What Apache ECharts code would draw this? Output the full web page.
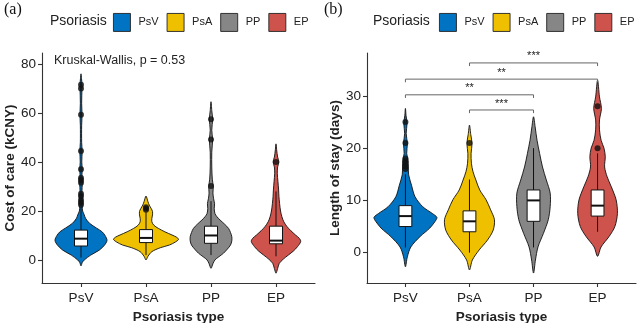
<!DOCTYPE html>
<html><head><meta charset="utf-8">
<script src="https://cdn.jsdelivr.net/npm/echarts@6/dist/echarts.min.js"></script>
<style>html,body{margin:0;padding:0;background:#fff}#c{width:642px;height:323px}</style>
</head><body><div id="c"></div>
<script>
// ---------- data ----------
const categories = ['PsV', 'PsA', 'PP', 'EP'];
const costTicks = [0, 20, 40, 60, 80];
const losTicks = [0, 10, 20, 30];

// violin outlines: [value, half-width in category units], bottom to top
const costViolin_PsV = [[-2.4,0],[-1,0.02],[0,0.05],[2,0.15],[4,0.28],[6,0.36],[8,0.40],[10,0.37],[11.6,0.32],[13,0.24],[15,0.13],[17,0.07],[18.4,0.05],[20,0.025],[22,0.02],[24,0.02],[26,0.022],[28,0.015],[31,0.02],[33,0.022],[35,0.015],[37,0.02],[40,0.012],[44.5,0.018],[48,0.01],[55,0.01],[59.3,0.016],[64,0.01],[70,0.015],[72,0.015],[74,0.008],[76,0]];
const costViolin_PsA = [[0,0],[1.5,0.03],[3.4,0.09],[5,0.22],[6.1,0.36],[7.3,0.45],[8.4,0.50],[9.3,0.47],[10.2,0.40],[11.5,0.29],[12.9,0.19],[14.2,0.12],[15.6,0.09],[17,0.09],[18.4,0.10],[19.8,0.10],[21,0.08],[22.4,0.05],[23.8,0.03],[26.1,0]];
const costViolin_PP = [[-3.4,0],[-1.5,0.03],[0,0.06],[1.3,0.12],[2.7,0.19],[4.4,0.25],[6.1,0.30],[7.8,0.32],[9.5,0.32],[11.2,0.30],[12.9,0.27],[14.6,0.21],[16.3,0.14],[17.7,0.09],[19,0.06],[21,0.05],[23,0.055],[25,0.04],[27.3,0.03],[30,0.035],[33,0.02],[38,0.012],[44,0.012],[49.2,0.025],[53,0.012],[57.5,0.025],[61,0.012],[64.6,0]];
const costViolin_EP = [[-5.4,0],[-3.5,0.025],[-1.4,0.05],[0.3,0.11],[2,0.19],[3.7,0.27],[5.4,0.33],[7.5,0.38],[8.8,0.36],[10.2,0.30],[11.9,0.23],[13.6,0.17],[15.6,0.12],[17.7,0.09],[20,0.07],[23.1,0.055],[26,0.045],[28.6,0.04],[32,0.03],[35.4,0.02],[38,0.025],[40,0.045],[42,0.025],[45,0.01],[47.4,0]];

const losViolin_PsV = [[-2.7,0],[-0.8,0.03],[1.1,0.085],[3.1,0.23],[4.7,0.38],[6.3,0.48],[6.8,0.49],[7.5,0.42],[8.8,0.27],[10.7,0.15],[12.9,0.095],[14.9,0.05],[16.4,0.045],[17.7,0.04],[19,0.02],[20.9,0.03],[22.8,0.012],[24.7,0.025],[26.2,0.01],[27.6,0]];
const losViolin_PsA = [[-3.3,0],[-1.4,0.045],[0.5,0.15],[2.4,0.28],[4.3,0.37],[6.3,0.39],[8.2,0.33],[10.1,0.26],[12,0.16],[13.9,0.10],[15.5,0.055],[17.1,0.03],[19,0.025],[20.9,0.04],[22.6,0.02],[24.4,0]];
const losViolin_PP = [[-3.9,0],[-1.4,0.03],[1.1,0.07],[3.7,0.155],[6.3,0.23],[8.8,0.26],[11.4,0.26],[13.9,0.20],[16.4,0.14],[19,0.095],[21.5,0.055],[24.1,0.025],[26,0]];
const losViolin_EP = [[-0.7,0],[1.1,0.055],[3.1,0.18],[5,0.27],[7.5,0.31],[10.1,0.29],[12.6,0.215],[14.5,0.15],[16.4,0.11],[18.4,0.12],[20,0.10],[21.5,0.055],[23.5,0.03],[25.4,0.03],[27.6,0.06],[29.8,0.03],[33,0]];

// boxplots: [category index, lower whisker, Q1, median, Q3, upper whisker]
const costBox = [[0,1,5.7,8.7,12.2,21.5],[1,2,7.1,9.0,12.4,19.5],[2,2,6.8,10.0,13.8,24],[3,1.5,6.6,7.9,13.8,28]];
const losBox = [[0,1,5,7,9,15],[1,0,4,6,8,14],[2,1,6,10,12,20],[3,4,7,9,12,19]];

// outliers per category
const costOutliers = [[71.5,70,59.3,44.5,37,33.5,32.5,31.5,27,26,24.5,23.5,22.5],[21,20.5,21.5],[57.5,49.2,30.2],[40]];
const losOutliers = [[25,21,18,17.5,17,16.5,16],[21],[],[28,20]];

// significance brackets (panel b)
const bracketPairs = [[1,3],[0,3],[0,2],[1,2]];
const bracketY = [36.3, 33.2, 30.2, 27.3];
const bracketLabels = ['***', '**', '**', '***'];

// ---------- style ----------
const palette = ['#0073C2', '#EFC000', '#868686', '#CD534C'];
const FONT = 'Liberation Sans, Arial, sans-serif';
const INK = '#222';

const chart = echarts.init(document.getElementById('c'), null, {renderer: 'canvas'});

function violin(name, idx, profile, ax, color) {
  return {
    type: 'custom', name: name, xAxisIndex: ax, yAxisIndex: ax, z: 2,
    itemStyle: {color: color},
    data: [[idx, profile[0][0]]],
    encode: {x: 0, y: 1},
    silent: true,
    renderItem: function (params, api) {
      const pts = [];
      for (const [v, w] of profile) pts.push(api.coord([idx - w, v]));
      for (let i = profile.length - 2; i >= 1; i--) {
        const [v, w] = profile[i];
        pts.push(api.coord([idx + w, v]));
      }
      return {type: 'polygon', shape: {points: pts, smooth: 0.3},
        style: {fill: color, stroke: '#111', lineWidth: 0.9}};
    }
  };
}

function boxSeries(data, ax) {
  return {
    type: 'custom', xAxisIndex: ax, yAxisIndex: ax, z: 3, silent: true,
    data: data, encode: {x: 0, y: [1, 2, 3, 4, 5]},
    renderItem: function (params, api) {
      const i = api.value(0), lo = api.value(1), q1 = api.value(2), md = api.value(3), q3 = api.value(4), hi = api.value(5);
      const hw = 0.1;
      const a = api.coord([i, lo]), b = api.coord([i, q1]), c = api.coord([i, q3]), d = api.coord([i, hi]);
      const tl = api.coord([i - hw, q3]), br = api.coord([i + hw, q1]);
      const ml = api.coord([i - hw, md]), mr = api.coord([i + hw, md]);
      const ls = {stroke: '#111', lineWidth: 1};
      return {type: 'group', children: [
        {type: 'line', shape: {x1: a[0], y1: a[1], x2: b[0], y2: b[1]}, style: ls},
        {type: 'line', shape: {x1: c[0], y1: c[1], x2: d[0], y2: d[1]}, style: ls},
        {type: 'rect', shape: {x: tl[0], y: tl[1], width: br[0] - tl[0], height: br[1] - tl[1]},
          style: {fill: '#fff', stroke: '#111', lineWidth: 1}},
        {type: 'line', shape: {x1: ml[0], y1: ml[1], x2: mr[0], y2: mr[1]}, style: {stroke: '#111', lineWidth: 2}}
      ]};
    }
  };
}

function outlierSeries(out, ax) {
  const pts = [];
  out.forEach((arr, i) => arr.forEach(v => pts.push([i, v])));
  return {type: 'scatter', xAxisIndex: ax, yAxisIndex: ax, z: 4, silent: true,
    symbolSize: 6, itemStyle: {color: '#111'}, data: pts};
}

const brackets = {
  type: 'custom', xAxisIndex: 1, yAxisIndex: 1, z: 5, silent: true,
  data: bracketPairs.map((p, k) => [p[0], p[1], bracketY[k]]),
  encode: {x: [0, 1], y: 2},
  renderItem: function (params, api) {
    const x1 = api.value(0), x2 = api.value(1), y = api.value(2);
    const tip = 0.6;
    const p1 = api.coord([x1, y - tip]), p2 = api.coord([x1, y]), p3 = api.coord([x2, y]), p4 = api.coord([x2, y - tip]);
    return {type: 'group', children: [
      {type: 'polyline', shape: {points: [p1, p2, p3, p4]}, style: {stroke: '#666', lineWidth: 1, fill: null}},
      {type: 'text', x: (p2[0] + p3[0]) / 2, y: p2[1] - 1,
        style: {text: bracketLabels[params.dataIndex], fontSize: 11, fontFamily: FONT, fill: INK,
          align: 'center', verticalAlign: 'bottom'}}
    ]};
  }
};

function xAxisCfg(grid) {
  return {
    type: 'value', gridIndex: grid, min: -0.6, max: 3.6,
    axisLine: {show: true, onZero: false, lineStyle: {color: '#333', width: 1.1}},
    axisTick: {show: true, length: 4, customValues: [0, 1, 2, 3], lineStyle: {color: '#333', width: 1.1}},
    axisLabel: {customValues: [0, 1, 2, 3], formatter: v => categories[Math.round(v)],
      fontSize: 13.5, fontFamily: FONT, color: INK, margin: 8},
    splitLine: {show: false},
    name: 'Psoriasis type', nameLocation: 'middle', nameGap: 19,
    nameTextStyle: {fontSize: 13.5, fontWeight: 'bold', fontFamily: FONT, color: INK}
  };
}
function yAxisCfg(grid, min, max, ticks, title, gap) {
  return {
    type: 'value', gridIndex: grid, min: min, max: max,
    axisLine: {show: true, onZero: false, lineStyle: {color: '#333', width: 1.1}},
    axisTick: {show: true, length: 4, customValues: ticks, lineStyle: {color: '#333', width: 1.1}},
    axisLabel: {customValues: ticks, fontSize: 13.5, fontFamily: FONT, color: INK, margin: 6},
    splitLine: {show: false},
    name: title, nameLocation: 'middle', nameGap: gap,
    nameTextStyle: {fontSize: 13.5, fontWeight: 'bold', fontFamily: FONT, color: INK}
  };
}

function legendCfg(left) {
  return {
    left: left, top: 13, orient: 'horizontal', data: categories, selectedMode: false,
    padding: 0, width: 260,
    icon: 'rect', itemWidth: 17, itemHeight: 18, itemGap: 8,
    itemStyle: {borderColor: INK, borderWidth: 0.9},
    textStyle: {fontSize: 11, fontFamily: FONT, color: INK, padding: [0, 0, 0, 3]}
  };
}

const violinsCost = [costViolin_PsV, costViolin_PsA, costViolin_PP, costViolin_EP];
const violinsLos = [losViolin_PsV, losViolin_PsA, losViolin_PP, losViolin_EP];

const series = [];
violinsCost.forEach((p, i) => series.push(violin(categories[i], i, p, 0, palette[i])));
violinsLos.forEach((p, i) => series.push(violin(categories[i], i, p, 1, palette[i])));
series.push(boxSeries(costBox, 0), boxSeries(losBox, 1));
series.push(outlierSeries(costOutliers, 0), outlierSeries(losOutliers, 1));
series.push(brackets);

chart.setOption({
  animation: false,
  backgroundColor: '#fff',
  grid: [
    {left: 42, right: 327, top: 53, bottom: 40, containLabel: false, outerBoundsMode: 'none'},
    {left: 367, right: 6, top: 53, bottom: 40, containLabel: false, outerBoundsMode: 'none'}
  ],
  xAxis: [xAxisCfg(0), xAxisCfg(1)],
  yAxis: [
    yAxisCfg(0, -9.4, 84.5, costTicks, 'Cost of care (kCNY)', 24),
    yAxisCfg(1, -5.8, 38.2, losTicks, 'Length of stay (days)', 25)
  ],
  legend: [legendCfg(113), legendCfg(439)],
  graphic: [
    {type: 'text', left: 4, top: 2, style: {text: '(a)', fontSize: 16, fontFamily: 'Liberation Serif, serif', fill: '#111'}},
    {type: 'text', left: 324, top: 2, style: {text: '(b)', fontSize: 16, fontFamily: 'Liberation Serif, serif', fill: '#111'}},
    {type: 'text', left: 50, top: 14, style: {text: 'Psoriasis', fontSize: 14, fontFamily: FONT, fill: INK}},
    {type: 'text', left: 373, top: 14, style: {text: 'Psoriasis', fontSize: 14, fontFamily: FONT, fill: INK}},
    {type: 'text', left: 54, top: 54, style: {text: 'Kruskal-Wallis, p = 0.53', fontSize: 12.5, fontFamily: FONT, fill: INK}}
  ],
  series: series
});
</script>
</body></html>
